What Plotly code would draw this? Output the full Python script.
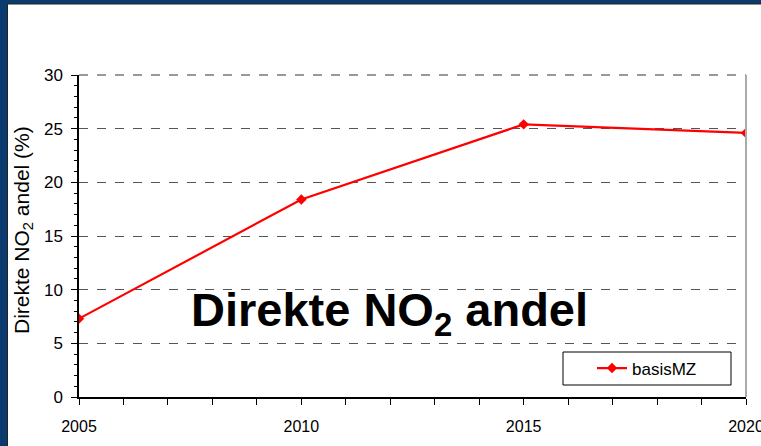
import plotly.graph_objects as go

# Data
years = [2005, 2010, 2015, 2020]
basis_mz = [7.3, 18.4, 25.4, 24.6]
y_ticks = [0, 5, 10, 15, 20, 25, 30]
x_ticks = [2005, 2010, 2015, 2020]

W, H = 761, 446
ml, mr, mt, mb = 79, 15, 75, 49
pw, ph = W - ml - mr, H - mt - mb

def px_x(p):
    return (p - ml) / pw

def px_y(p):
    return (H - mb - p) / ph

FONT = 'Liberation Sans, Arial, sans-serif'

fig = go.Figure()

fig.add_trace(go.Scatter(
    x=years, y=basis_mz, mode='lines+markers', name='basisMZ',
    line=dict(color='#ff0000', width=2.2),
    marker=dict(symbol='diamond', size=8, color='#ff0000')
))

# white panel inside the navy frame
fig.add_shape(type='rect', xref='paper', yref='paper', layer='below',
              x0=px_x(7.5), x1=px_x(W + 5), y0=px_y(H + 5), y1=px_y(4),
              fillcolor='white', line=dict(color='#222222', width=1))

# top border (dashed grey) and right border of plot area
fig.add_shape(type='line', xref='paper', yref='paper', x0=0, x1=1, y0=1, y1=1,
              line=dict(color='#999999', width=2, dash='dash'))
fig.add_shape(type='line', xref='paper', yref='paper', x0=1, x1=1, y0=0, y1=1,
              line=dict(color='#aaaaaa', width=2))

# legend box
fig.add_shape(type='rect', xref='paper', yref='paper', layer='above',
              x0=px_x(563), x1=px_x(731), y0=px_y(385), y1=px_y(352),
              fillcolor='white', line=dict(color='black', width=1))

fig.add_annotation(text='<b>Direkte NO<sub>2</sub> andel</b>', x=px_x(389), y=px_y(313),
                   xref='paper', yref='paper', showarrow=False, xanchor='center', yanchor='middle',
                   font=dict(family=FONT, size=47, color='black'))

# y axis title
fig.add_annotation(text='Direkte NO<sub>2</sub> andel (%)', x=px_x(23), y=px_y(230),
                   xref='paper', yref='paper', showarrow=False, textangle=-90,
                   xanchor='center', yanchor='middle',
                   font=dict(family=FONT, size=21, color='black'))

fig.update_layout(
    width=W, height=H,
    margin=dict(l=ml, r=mr, t=mt, b=mb, autoexpand=False),
    paper_bgcolor='#0b3a6e',
    plot_bgcolor='white',
    font=dict(family=FONT, color='black', size=17),
    showlegend=True,
    legend=dict(
        x=px_x(592), y=px_y(368.5), xanchor='left', yanchor='middle',
        bgcolor='rgba(0,0,0,0)', borderwidth=0,
        font=dict(size=17), itemwidth=30,
    ),
)

fig.update_xaxes(
    range=[2005, 2020], tickvals=x_ticks, ticks='outside', ticklen=6, tickwidth=1,
    tickcolor='black', showgrid=False, zeroline=False, automargin=False,
    showline=True, linecolor='black', linewidth=1.5,
    minor=dict(dtick=1, ticks='outside', ticklen=6, tickcolor='black', showgrid=False),
    tickfont=dict(size=16), ticklabelstandoff=8, ticklabeloverflow='allow',
)
fig.update_yaxes(
    range=[0, 30], tickvals=y_ticks, ticks='outside', ticklen=6, tickwidth=1,
    tickcolor='black', showgrid=True, gridcolor='#555555', griddash='dash', gridwidth=1,
    zeroline=False, showline=True, linecolor='black', linewidth=1.5, automargin=False,
    minor=dict(dtick=1, ticks='outside', ticklen=3, tickcolor='black', showgrid=False),
    tickfont=dict(size=17), ticklabelstandoff=5,
)

# page body margin off so the figure sits at the window's top-left corner
fig.write_html("out.html", config={'displayModeBar': False},
               post_script="document.body.style.margin='0';")
